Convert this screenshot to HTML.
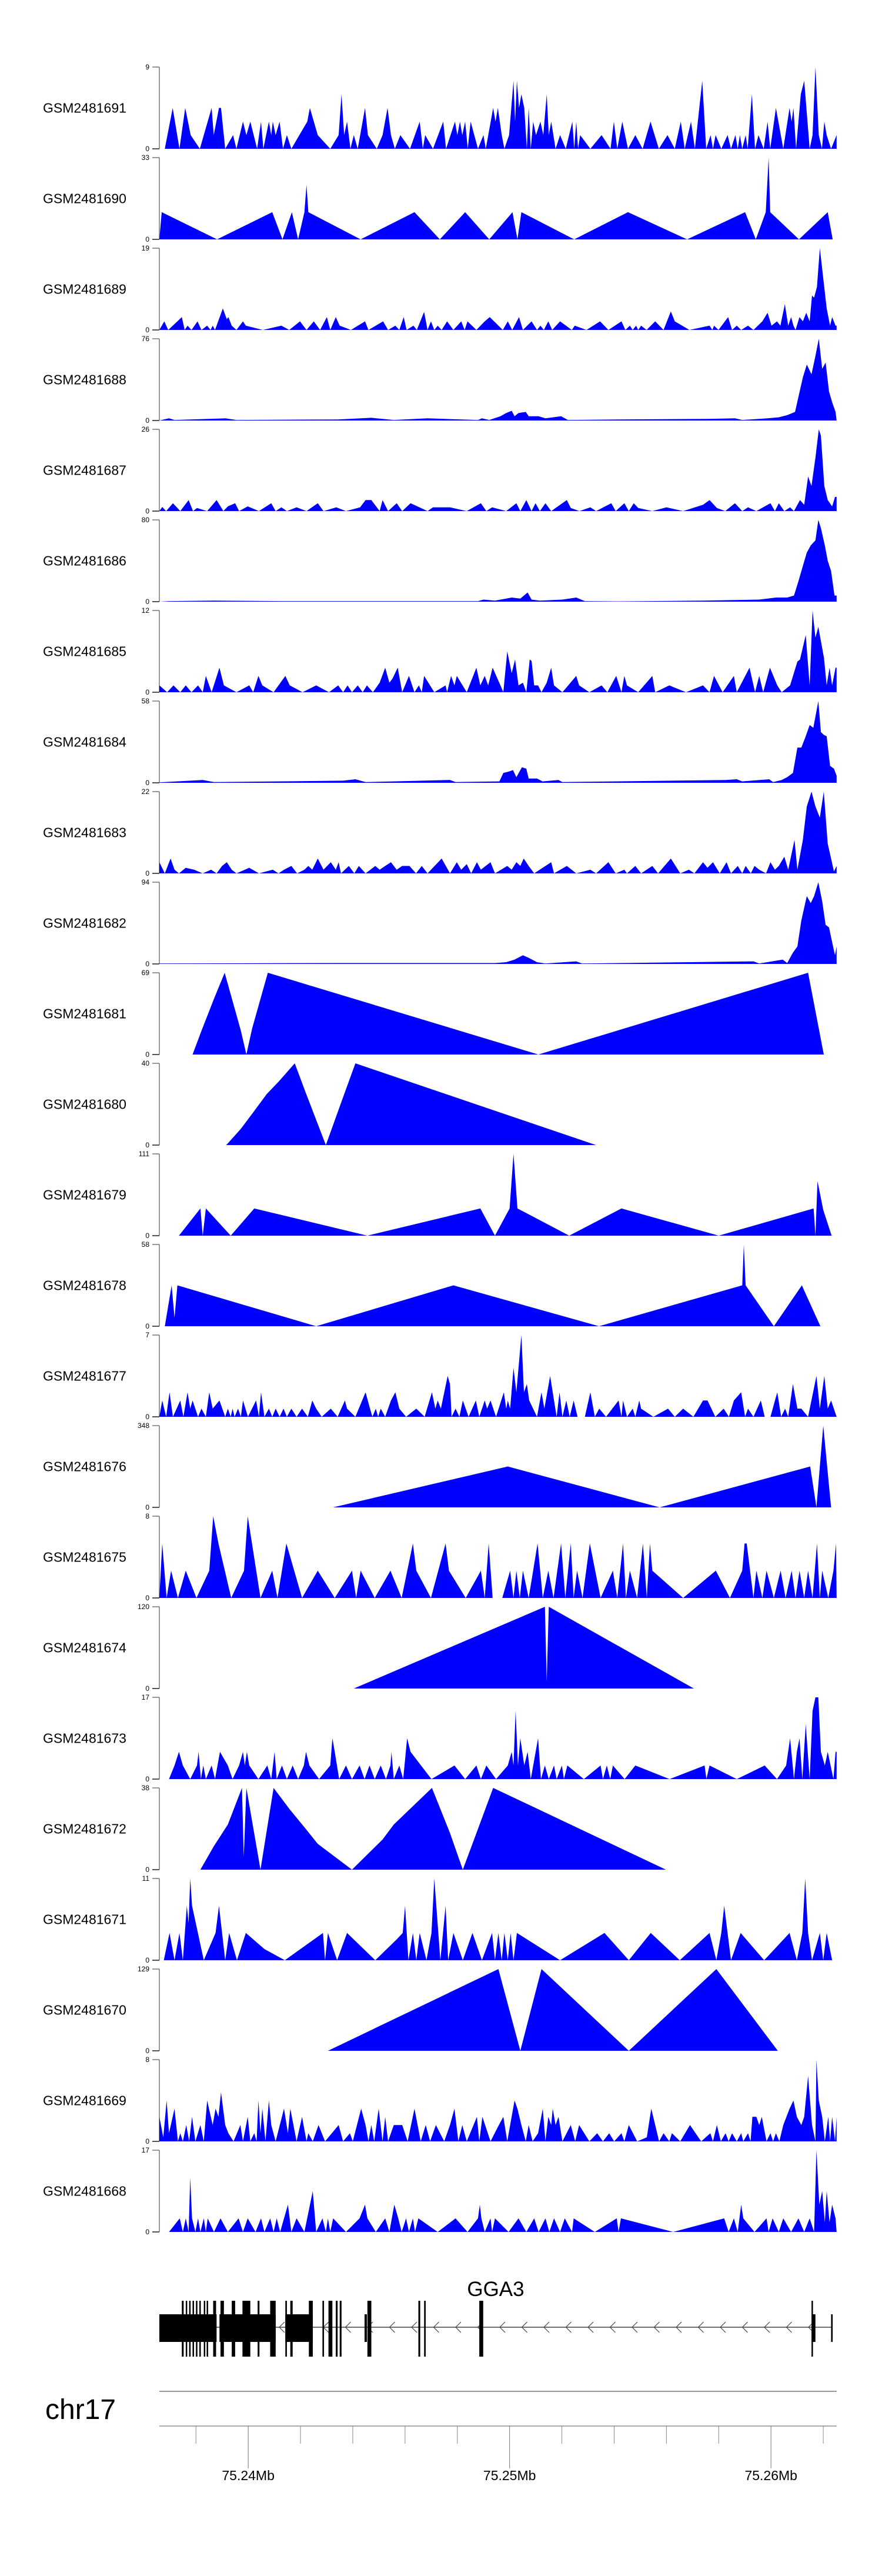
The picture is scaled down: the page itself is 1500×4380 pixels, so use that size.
<!DOCTYPE html>
<html><head><meta charset="utf-8"><title>Coverage tracks GGA3</title>
<style>
html,body{margin:0;padding:0;background:#fff;}
#wrap{position:relative;width:1500px;height:4380px;overflow:hidden;}
svg text{font-family:"Liberation Sans",Arial,sans-serif;}
</style></head>
<body>
<div id="wrap">
<svg id="fig" width="1500" height="4380" viewBox="0 0 1500 4380" xmlns="http://www.w3.org/2000/svg"></svg>
</div>
<script>
// ---------------- data ----------------
const sampleNames = ["GSM2481691","GSM2481690","GSM2481689","GSM2481688","GSM2481687","GSM2481686","GSM2481685","GSM2481684","GSM2481683","GSM2481682","GSM2481681","GSM2481680","GSM2481679","GSM2481678","GSM2481677","GSM2481676","GSM2481675","GSM2481674","GSM2481673","GSM2481672","GSM2481671","GSM2481670","GSM2481669","GSM2481668"];
const yMaxLabels = [9,33,19,76,26,80,12,58,22,94,69,40,111,58,7,348,8,120,17,38,11,129,8,17];
// positions in kb (offset from 75,230 kb), values alternate: kb, value, kb, value...
const t691 = [6.81,0,7.11,4.5,7.37,0,7.59,4.5,7.80,1.5,8.15,0,8.60,4.5,8.68,1.5,8.88,4.5,8.96,4.5,9.12,0,9.42,1.5,9.55,0,9.80,3,9.93,1.5,10.08,3,10.34,0,10.49,3,10.58,0,10.79,3,10.88,1.5,10.94,3,11.05,1.5,11.20,3,11.33,0,11.48,1.5,11.65,0,12.26,3,12.36,4.5,12.66,1.5,13.14,0,13.46,1.5,13.57,6,13.67,1.5,13.78,3,13.91,0,14.04,1.5,14.19,0,14.47,4.5,14.58,1.5,14.92,0,15.14,1.5,15.33,4.5,15.46,1.5,15.61,0,15.82,1.5,16.19,0,16.56,3,16.68,0,16.77,1.5,17.07,0,17.46,3,17.57,0,17.91,3,18.00,1.5,18.10,3,18.19,1.5,18.30,3,18.40,0,18.51,3,18.79,0,19.00,1.5,19.09,0,19.37,4.5,19.46,3,19.55,4.5,19.70,1.5,19.80,0,19.98,1.5,20.15,7.5,20.21,3,20.28,7.5,20.36,4.5,20.45,6,20.56,4.5,20.66,0,20.73,4.5,20.81,0,20.90,3,21.01,1.5,21.18,3,21.29,1.5,21.42,6,21.50,1.5,21.59,3,21.76,0,21.93,1.5,22.15,0,22.40,3,22.47,0,22.55,3,22.62,0,22.70,1.5,23.09,0,23.52,1.5,23.86,0,23.99,3,24.12,0,24.31,3,24.53,0,24.81,1.5,25.09,0,25.39,3,25.71,0,26.04,1.5,26.32,0,26.55,3,26.70,0,26.94,3,27.09,0,27.37,7.5,27.52,0,27.69,1.5,27.78,0,27.88,1.5,28.10,0,28.34,1.5,28.47,0,28.64,1.5,28.73,0,28.81,1.5,28.90,0,29.03,1.5,29.11,0,29.27,6,29.39,0,29.52,1.5,29.72,0,29.87,3,29.97,0,30.19,4.5,30.47,0,30.71,4.5,30.79,3,30.86,4.5,30.96,0,31.14,6,31.27,7.5,31.48,0,31.59,1.5,31.70,9,31.83,1.5,31.95,0,32.04,3,32.13,1.5,32.30,0,32.51,1.5];
const t690 = [6.60,0,6.69,11,8.81,0,10.92,11,11.31,0,11.67,11,11.91,0,12.15,11,12.23,22,12.30,11,14.30,0,16.36,11,17.33,0,18.30,11,19.22,0,20.11,11,20.30,0,20.45,11,22.47,0,24.53,11,26.79,0,29.01,11,29.42,0,29.80,11,29.91,33,29.97,11,31.07,0,32.17,11,32.36,0];
const t689 = [6.60,0,6.79,2,6.94,0,7.29,2,7.46,3,7.57,0,7.68,1,7.83,0,8.06,2,8.21,0,8.43,1,8.56,0,8.64,1,8.73,0,9.03,5,9.18,2.5,9.24,3,9.37,1,9.55,0,9.80,2,9.91,1,10.56,0,11.27,1,11.57,0,11.98,2,12.23,0,12.51,2,12.75,0,13.01,3,13.14,0,13.35,3,13.50,1,13.93,0,14.47,2,14.60,0,15.16,2,15.35,0,15.63,1,15.78,0,15.95,3,16.06,0,16.32,1,16.45,0,16.73,4.2,16.86,0,16.99,2,17.12,0,17.25,1,17.40,0,17.61,2,17.85,0,18.15,2,18.28,0,18.39,2,18.73,0,19.05,2,19.24,3,19.74,0,19.93,2,20.10,0,20.36,3,20.51,0,20.84,2,21.05,0,21.18,1,21.31,0,21.48,2,21.63,0,21.93,2,22.38,0,22.49,1,22.94,0,23.46,2,23.78,0,24.28,2,24.43,0,24.60,1,24.71,0,24.84,1,24.92,0,25.03,1,25.24,0,25.57,2,25.89,0,26.17,4.3,26.32,2,26.88,0,27.65,1,27.76,0,27.82,1,27.99,0,28.36,3,28.51,0,28.69,1,28.86,0,29.12,1,29.33,0,29.67,2,29.87,4,30.02,1,30.23,2,30.36,1,30.53,6,30.66,1,30.77,3,30.86,1,30.94,0,31.09,3,31.22,2,31.35,4,31.48,2,31.57,8,31.65,7.5,31.76,10,31.87,19,32.00,12,32.13,5,32.26,1,32.34,3,32.47,1,32.51,1];
const t688 = [6.60,0,6.97,2,7.18,0.5,9.12,2,9.55,0.5,13.42,1,14.71,2.5,15.57,0.5,16.86,2,18.79,0.5,18.94,2,19.22,0.5,19.65,4,19.87,7,20.08,9,20.19,4,20.34,7,20.62,8,20.73,4,21.11,4,21.37,2,21.97,4,22.23,0.5,24.17,1,27.61,1.5,28.62,2,28.90,0.5,29.87,2,30.30,3,30.62,5,30.92,8,31.05,22,31.22,40,31.37,52,31.55,43,31.70,60,31.83,76,31.96,48,32.09,54,32.22,27,32.34,17,32.47,8,32.51,0];
const t687 = [6.60,0,6.71,1.3,6.86,0,7.12,2.5,7.40,0,7.72,3.5,7.89,0,8.04,1,8.43,0,8.79,3.5,9.05,0,9.22,1.5,9.50,2.5,9.65,0,9.98,1.5,10.41,0,10.88,2.5,11.05,0,11.27,1.2,11.48,0,11.85,1.2,12.23,0,12.66,2.5,12.88,0,13.37,1.2,13.74,0,14.28,1.2,14.49,3.5,14.71,3.5,15.03,0,15.14,3.5,15.35,0,15.68,2.5,15.89,0,16.21,2.5,16.86,0,17.07,1.2,17.72,1.2,18.36,0,18.90,2.5,19.11,0,19.33,1.2,19.87,0,20.26,2.5,20.41,0,20.64,3.5,20.84,0,20.99,2.5,21.16,0,21.37,2.5,21.59,0,22.19,3.5,22.34,1,22.67,0,23.09,1.2,23.31,0,23.89,2.5,24.06,0,24.39,2.5,24.56,0,24.75,2.5,24.92,1,25.46,0,26.00,1.2,26.64,0,27.40,2,27.65,3.5,27.93,1,28.25,0,28.62,2.5,28.90,0,29.12,1.2,29.44,0,29.98,2.5,30.15,0,30.30,2.5,30.51,0,30.73,1.2,30.88,0,31.11,3.5,31.27,2,31.42,11,31.55,8,31.70,17,31.83,26,31.91,24,32.04,8,32.17,3.5,32.34,1.5,32.45,4.5,32.51,4.5];
const t686 = [6.60,0,6.97,0.5,8.69,1,11.27,0.5,15.57,0.5,18.79,0.5,19.00,2,19.44,1,19.87,3,20.08,4,20.41,3,20.69,9,20.84,2,21.16,1,22.02,2,22.55,4,22.88,0.5,24.17,0.3,27.40,1,28.47,1.5,29.55,2,30.19,4,30.62,4,30.88,6,31.05,20,31.22,35,31.37,48,31.52,55,31.70,60,31.81,80,31.91,72,32.06,55,32.17,40,32.30,30,32.43,6,32.51,6];
const t685 = [6.60,1,6.90,0,7.14,1,7.40,0,7.61,1,7.83,0,8.08,1,8.26,0,8.38,2.4,8.60,0,8.90,3.6,9.07,1,9.55,0,10.04,1,10.19,0,10.39,2.4,10.54,1,10.97,0,11.42,2.4,11.59,1,12.08,0,12.60,1,13.09,0,13.44,1,13.63,0,13.80,1,13.97,0,14.19,1,14.38,0,14.54,1,14.77,0,15.03,1.4,15.24,3.6,15.40,1.4,15.52,2,15.72,3.6,15.89,0,16.15,2.4,16.36,0,16.53,1,16.64,0,16.73,2.4,17.12,0,17.55,1,17.61,0,17.76,2.4,17.89,1,17.98,2.4,18.36,0,18.73,3.6,18.88,1,19.05,2.4,19.18,1,19.35,3.6,19.65,1,19.76,0,19.91,6,20.08,2.8,20.21,4.8,20.34,1,20.51,1.4,20.64,0,20.77,4.8,20.84,4.6,20.94,1,21.09,1,21.22,0,21.42,1.4,21.59,3.6,21.70,1,22.02,0,22.55,2.4,22.66,1,23.05,0,23.52,1,23.74,0,24.08,2.4,24.28,0,24.39,2.4,24.49,1,24.92,0,25.46,2.4,25.57,0,26.11,1,26.75,0,27.40,1,27.65,0,27.82,2.4,28.15,0,28.58,2.4,28.69,0,29.18,3.6,29.39,0,29.55,2.4,29.70,0,29.96,3.6,30.24,1,30.41,0,30.73,1,31.01,4.5,31.11,4.8,31.33,8.4,31.48,1,31.59,12,31.70,8,31.81,9.6,32.03,5,32.13,1,32.24,3.6,32.34,1,32.47,3.6,32.51,3.6];
const t684 = [6.60,0.3,8.26,2,8.69,0.5,13.63,1.5,14.10,2.5,14.49,0.5,17.72,2,17.93,0.5,19.61,1,19.76,7,19.98,8,20.13,9,20.26,4,20.47,11,20.64,10,20.73,3,21.05,3,21.26,1,21.87,2,22.02,0.5,28.26,2,28.69,2.5,28.90,1,29.93,2.5,30.08,0.5,30.41,2,30.62,4,30.84,7,31.01,25,31.16,25,31.31,32,31.48,41,31.62,39,31.81,58,31.91,36,32.02,34,32.13,33,32.26,12,32.41,10,32.51,5];
const t683 = [6.60,3,6.81,0,7.03,4,7.18,1,7.35,0,7.61,1.5,7.93,1,8.26,0,8.58,1,8.79,0,9.00,2,9.18,3,9.37,1,9.55,0,10.04,1.5,10.41,0,10.94,1,11.16,0,11.37,1,11.65,2,11.87,0,12.15,1,12.30,2,12.45,1,12.66,4,12.88,1,13.16,3,13.35,1,13.46,3,13.55,0,13.85,2,14.06,0,14.23,2,14.49,0,14.86,2,15.03,1,15.24,2,15.46,3,15.68,1,15.89,2,16.17,2,16.42,0,16.64,2,16.86,0,17.40,4,17.72,0,17.98,3,18.15,1,18.36,2.5,18.53,0,18.75,3,18.90,1,19.27,3,19.44,0,19.91,2,20.08,1,20.26,3,20.41,2,20.54,4,20.73,2,20.94,0,21.59,3,21.70,0,22.19,2,22.55,0,23.09,1,23.31,0,23.78,3,24.06,0,24.39,1,24.49,0,24.81,2,25.03,0,25.46,2,25.68,0,26.17,4,26.53,0,26.86,1,27.07,0,27.40,3,27.57,1.5,27.78,3,28.04,0,28.30,3,28.47,0,28.73,2,28.90,0,29.03,2,29.23,0,29.37,2,29.55,1,29.81,0,29.98,3,30.15,1,30.30,2,30.51,4.5,30.66,1,30.90,9,31.01,1,31.22,9,31.37,18,31.55,22,31.70,18,31.87,15,32.02,22,32.17,8,32.30,4,32.41,0.5,32.51,2];
const t682 = [6.60,0.5,13.42,1,19.44,1,19.87,2,20.19,5,20.51,10,20.73,7,21.05,2,21.37,0.5,22.55,3,22.77,0.5,29.33,3,29.55,0.5,30.45,5,30.62,1,30.84,13,31.01,20,31.16,50,31.37,78,31.52,70,31.65,78,31.81,94,31.96,72,32.09,45,32.22,42,32.34,25,32.45,10,32.51,20];
const t681 = [7.87,0,8.21,20,8.69,47,9.10,69,9.72,20,9.93,0,10.15,22,10.75,69,21.10,0,31.42,69,32.02,0];
const t680 = [9.16,0,9.72,8,10.19,16,10.71,25,11.16,31,11.78,40,12.19,26,12.97,0,13.59,22,14.10,40,23.31,0];
const t679 = [7.35,0,8.17,37,8.26,0,8.38,37,9.33,0,10.23,37,14.56,0,18.88,37,19.44,0,20.00,37,20.15,111,20.30,37,22.28,0,24.28,37,28.00,0,31.63,37,31.70,0,31.78,74,32.00,35,32.32,0];
const t678 = [6.81,0,7.07,29,7.18,6,7.29,29,12.60,0,17.85,29,23.42,0,28.90,29,28.96,58,29.03,29,30.11,0,31.18,29,31.89,0];
const t677 = [6.60,0,6.71,1.4,6.86,0,6.99,2.1,7.12,0,7.40,1.4,7.52,0,7.68,2.1,7.78,0.7,7.87,1.4,8.08,0,8.21,0.7,8.38,0,8.51,2.1,8.64,0.7,8.90,1.4,9.12,0,9.22,0.7,9.33,0,9.40,0.7,9.48,0,9.61,0.7,9.72,0,9.80,1.4,9.99,0,10.30,1.4,10.41,0,10.49,2.1,10.62,0,10.79,0.7,10.92,0,11.05,0.7,11.20,0,11.35,0.7,11.48,0,11.65,0.7,11.85,0,12.06,0.7,12.28,0,12.45,1.4,12.60,0.7,12.81,0,13.16,0.7,13.42,0,13.70,1.4,13.78,0.7,14.10,0,14.49,2.1,14.66,0.7,14.75,0,14.88,0.7,14.97,0,15.07,0.7,15.24,0,15.46,1.4,15.63,2.1,15.78,0.7,16.04,0,16.43,0.7,16.75,0,17.03,2.1,17.16,0.7,17.25,1.4,17.37,0.7,17.63,3.5,17.72,2.8,17.78,0,17.93,0.7,18.08,0,18.21,1.4,18.43,0,18.71,1.4,18.84,0,19.05,1.4,19.14,0.7,19.27,1.4,19.48,0,19.78,2.1,19.87,0.7,19.93,1.4,20.02,0.7,20.15,4.2,20.26,2.1,20.45,7,20.55,2.1,20.66,2.8,20.75,1.4,21.05,0,21.22,2.1,21.33,0.7,21.55,3.5,21.70,1.4,21.80,0,21.91,2.1,22.02,0,22.17,1.4,22.30,0,22.45,1.4,22.60,0,22.88,0,23.09,2.1,23.26,0,23.43,0.7,23.69,0,24.17,1.4,24.28,0,24.34,1.4,24.49,0,24.71,0.7,24.81,0,24.96,1.4,25.03,0.7,25.50,0,26.06,0.7,26.32,0,26.64,0.7,27.03,0,27.40,1.4,27.57,1.4,27.87,0,28.19,0.7,28.39,0,28.58,1.4,28.86,2.1,29.01,0,29.12,0.7,29.33,0,29.61,1.4,29.76,0,29.98,0,30.24,2.1,30.39,0,30.54,0.7,30.66,0,30.84,2.8,31.01,0.7,31.16,0.7,31.42,0,31.74,3.5,31.87,0.7,32.04,3.5,32.17,0.7,32.30,1.4,32.51,0];
const t676 = [13.24,0,19.93,174,25.74,0,31.50,174,31.74,0,32.00,348,32.30,0];
const t675 = [6.60,0,6.71,5.33,6.88,0,7.05,2.67,7.31,0,7.61,2.67,8.02,0,8.51,2.67,8.66,8,8.86,5.33,9.35,0,9.84,2.67,9.98,8,10.47,0,10.92,2.67,11.12,0,11.46,5.33,12.06,0,12.66,2.67,13.31,0,13.97,2.67,14.13,0,14.30,2.67,14.84,0,15.44,2.67,15.87,0,16.30,5.33,16.43,2.67,16.99,0,17.55,5.33,17.68,2.67,18.32,0,18.90,2.67,19.05,0,19.20,5.33,19.35,0,19.72,0,20.02,2.67,20.15,0,20.26,2.67,20.39,0,20.51,2.67,20.73,0,20.90,2.67,21.07,5.33,21.27,0,21.48,2.67,21.68,0,21.97,5.33,22.13,0,22.34,5.33,22.45,0,22.58,2.67,22.79,0,23.07,5.33,23.48,0,23.95,2.67,24.12,0,24.34,5.33,24.45,0,24.60,2.67,24.88,0,25.10,5.33,25.25,0,25.37,5.33,25.46,2.67,26.64,0,27.89,2.67,28.43,0,28.90,2.67,28.99,5.33,29.07,5.33,29.33,0,29.44,2.67,29.67,0,29.83,2.67,30.11,0,30.37,2.67,30.56,0,30.79,2.67,30.94,0,31.09,2.67,31.27,0,31.42,2.67,31.59,0,31.76,5.33,31.87,0,31.96,2.67,32.19,0,32.39,2.67,32.49,5.33,32.51,0];
const t674 = [14.04,0,21.35,120,21.42,10,21.50,120,27.05,0];
const t673 = [6.97,0,7.18,2.83,7.35,5.67,7.50,2.83,7.78,0,8.04,2.83,8.10,5.67,8.19,0,8.28,2.83,8.38,0,8.60,2.83,8.73,0,8.92,5.67,9.22,2.83,9.40,0,9.65,2.83,9.80,5.67,9.87,2.83,9.95,5.67,10.04,2.83,10.39,0,10.73,2.83,10.88,0,11.01,5.67,11.09,0,11.29,2.83,11.48,0,11.70,2.83,11.91,0,12.13,2.83,12.21,5.67,12.34,2.83,12.71,0,13.14,2.83,13.22,8.5,13.31,5.67,13.48,0,13.74,2.83,13.97,0,14.26,2.83,14.45,0,14.64,2.83,14.84,0,15.07,2.83,15.27,0,15.44,2.83,15.48,5.67,15.57,0,15.78,2.83,15.93,0,16.08,8.5,16.21,5.67,17.01,0,17.89,2.83,18.30,0,18.73,2.83,18.90,0,19.11,2.83,19.48,0,19.93,2.83,20.08,5.67,20.15,2.83,20.23,14.2,20.32,2.83,20.41,8.5,20.56,2.83,20.69,5.67,20.81,0,21.09,8.5,21.20,0,21.35,2.83,21.50,0,21.70,2.83,21.80,0,22.00,2.83,22.08,0,22.21,2.83,22.84,0,23.48,2.83,23.57,0,23.72,2.83,23.85,0,23.95,2.83,24.40,0,24.81,2.83,26.12,0,27.46,2.83,27.53,0,27.65,2.83,28.69,0,29.76,2.83,30.23,0,30.58,2.83,30.73,8.5,30.88,0,30.99,5.67,31.09,8.5,31.20,0,31.33,11.4,31.48,0,31.59,14.2,31.70,17,31.81,17,31.91,5.67,32.06,2.83,32.17,5.67,32.39,0,32.47,5.67,32.51,5.67];
const t672 = [8.17,0,8.69,11,9.22,21,9.76,38,9.83,6,9.93,38,10.47,0,10.97,38,11.59,28,12.13,20,12.66,12,13.97,0,15.14,14,15.57,21,17.03,38,17.72,17,18.21,0,18.64,14,19.37,38,25.98,0];
const t671 = [6.77,0,6.99,3.67,7.18,0,7.37,3.67,7.50,0,7.65,7.33,7.72,5,7.78,11,7.85,7.33,8.30,0,8.75,3.67,8.88,7.33,9.12,0,9.27,3.67,9.57,0,9.91,3.67,10.62,1.5,11.40,0,12.86,3.67,12.94,0,13.05,3.67,13.40,0,13.78,3.67,14.86,0,15.68,2.8,15.91,3.67,16.00,7.33,16.13,0,16.30,3.67,16.43,0,16.56,3.67,16.82,0,17.01,3.67,17.12,11,17.35,0,17.55,7.33,17.65,0,17.85,3.67,18.21,0,18.58,3.67,18.94,0,19.33,3.67,19.44,0,19.57,3.67,19.70,0,19.80,3.67,19.93,0,20.04,3.67,20.15,0,20.28,3.67,21.93,0,23.63,3.67,24.56,0,25.40,3.67,26.51,0,27.65,3.67,27.91,0,28.10,3.67,28.21,7.33,28.47,0,28.84,3.67,29.74,0,30.71,3.67,30.99,0,31.20,3.67,31.31,11,31.42,3.67,31.57,0,31.87,3.67,32.00,0,32.13,3.67,32.34,0];
const t670 = [13.05,0,19.57,129,20.41,0,21.22,129,24.56,0,27.91,129,30.26,0];
const t669 = [6.60,2.4,6.75,0.4,6.88,4,6.97,0.8,7.18,3.2,7.31,0,7.40,0.8,7.50,0,7.63,1.6,7.74,0,7.85,2.4,7.98,0,8.17,1.6,8.30,0,8.43,4,8.64,1.6,8.75,3.2,8.86,2.4,8.96,4.8,9.12,1.6,9.24,0.8,9.44,0,9.70,1.6,9.80,0,9.98,2.4,10.08,0,10.23,0.8,10.32,0,10.39,4,10.47,0.8,10.54,3.2,10.66,0,10.79,4,10.88,1.6,11.05,0,11.37,3.2,11.52,0.8,11.61,3.2,11.85,0,12.06,2.4,12.23,0,12.30,0.8,12.47,0,12.69,1.6,12.94,0,13.46,1.6,13.63,0,13.89,0.8,14.00,0,14.32,3.2,14.49,1.6,14.60,0,14.71,1.6,14.82,0,14.99,3.2,15.14,0,15.24,2.4,15.35,0,15.57,1.6,15.89,1.6,16.10,0,16.36,3.2,16.60,0,16.79,1.6,16.96,0,17.18,1.6,17.50,0,17.72,1.6,17.89,3.2,18.04,0,18.19,1.6,18.36,0,18.75,2.4,18.84,0,18.96,2.4,19.27,0,19.59,1.6,19.76,2.4,19.91,0,20.02,1.6,20.19,4,20.30,3.2,20.45,1.6,20.62,0,20.73,1.6,20.88,0,21.09,0.8,21.27,3.2,21.37,0,21.48,2.4,21.59,1.6,21.65,3.2,21.76,1.6,21.87,2.4,22.02,0,22.34,1.6,22.51,0,22.66,1.6,23.05,0,23.35,0.8,23.57,0,23.81,0.8,24.00,0,24.28,0.8,24.39,0,24.56,1.6,24.88,0,25.25,0.4,25.42,3.2,25.57,1.6,25.72,0,25.89,0.8,26.11,0,26.21,0.8,26.53,0,26.90,1.6,27.33,0,27.68,0.8,27.78,0,27.93,1.6,28.08,0,28.26,0.8,28.38,0,28.51,0.8,28.69,0,28.86,0.8,28.94,0,29.12,0.8,29.22,0,29.29,2.4,29.44,2.4,29.55,1.6,29.65,2.4,29.83,0,29.98,0.8,30.08,0,30.19,0.8,30.32,0,30.47,1.6,30.71,3.2,30.86,4,30.99,2.4,31.16,1.6,31.27,2.4,31.42,6.4,31.57,1.6,31.70,0,31.74,8,31.83,4,31.96,2.4,32.06,0,32.19,2.4,32.26,0,32.34,2.4,32.45,0,32.51,2.4];
const t668 = [6.97,0,7.38,2.83,7.50,0,7.61,2.83,7.72,0,7.78,11.3,7.85,2.83,7.98,0,8.08,2.83,8.17,0,8.30,2.83,8.38,0,8.45,2.83,8.69,0,8.94,2.83,9.22,0,9.63,2.83,9.80,0,9.98,2.83,10.28,0,10.49,2.83,10.62,0,10.84,2.83,10.97,0,11.09,2.83,11.22,0,11.52,5.67,11.65,0,11.85,2.83,12.15,0,12.47,8.5,12.60,0,12.84,2.83,12.97,0,13.05,2.83,13.14,0,13.25,2.83,13.74,0,14.26,2.83,14.47,5.67,14.56,2.83,14.88,0,15.24,2.83,15.40,0,15.59,5.67,15.74,2.83,15.87,0,16.04,2.83,16.15,0,16.30,2.83,16.38,0,16.51,2.83,17.25,0,17.93,2.83,18.39,0,18.79,2.83,18.86,5.67,18.92,2.83,19.05,0,19.27,2.83,19.33,0,19.44,2.83,19.96,0,20.34,2.83,20.64,0,20.94,2.83,21.11,0,21.37,2.83,21.52,0,21.70,2.83,21.93,0,22.11,2.83,22.39,0,22.45,2.83,23.26,0,24.10,2.83,24.17,0,24.26,2.83,26.26,0,28.21,2.83,28.38,0,28.58,2.83,28.73,0,28.86,5.67,28.94,2.83,29.37,0,29.83,2.83,29.91,0,30.06,2.83,30.30,0,30.47,2.83,30.77,0,31.05,2.83,31.27,0,31.48,2.83,31.65,0,31.74,17,31.85,5.67,31.96,8.5,32.06,2,32.13,8.5,32.24,2,32.34,5.67,32.47,2.83,32.51,0];
const trackData = [t691,t690,t689,t688,t687,t686,t685,t684,t683,t682,t681,t680,t679,t678,t677,t676,t675,t674,t673,t672,t671,t670,t669,t668];

// gene model GGA3 (kb)
const utrBlocks = [[6.60,8.79],[8.90,11.05],[11.42,12.47],[14.45,14.54],[31.59,31.70],[32.30,32.36]];
const cdsBlocks = [[7.46,7.53],[7.61,7.65],[7.74,7.78],[7.87,7.91],[8.00,8.04],[8.13,8.17],[8.30,8.34],[8.41,8.45],[8.66,8.77],[8.94,9.07],[9.37,9.50],[9.78,10.08],[10.36,10.43],[10.84,11.05],[11.42,11.48],[11.61,11.70],[12.32,12.47],[12.84,12.90],[13.07,13.22],[13.35,13.42],[13.50,13.57],[14.56,14.71],[16.51,16.58],[16.73,16.79],[18.84,18.99],[31.55,31.59]];
const geneSpan = [6.60,32.36];
const axisMajorKb = [10,20,30];
const axisMajorLabels = ["75.24Mb","75.25Mb","75.26Mb"];
const axisMinorKb = [8,12,14,16,18,22,24,26,28,32];

// ---------------- layout / scales ----------------
const X0 = 271, X1 = 1423, KB0 = 6.6, KB1 = 32.515;
function xScale(kb){ return X0 + (kb - KB0) * (X1 - X0) / (KB1 - KB0); }
const TRACK_TOP = 114, TRACK_PITCH = 154, TRACK_H = 139;
function yScale(i, v){ const base = TRACK_TOP + i*TRACK_PITCH + TRACK_H; return base - v / yMaxLabels[i] * TRACK_H; }

const NS = "http://www.w3.org/2000/svg";
const svg = document.getElementById('fig');
function mk(tag, attrs, parent){ const e = document.createElementNS(NS, tag); for (const k in attrs) e.setAttribute(k, attrs[k]); (parent||svg).appendChild(e); return e; }

// ---------------- tracks ----------------
sampleNames.forEach((name, i) => {
  const g = mk('g', {});
  
  
  const top = TRACK_TOP + i*TRACK_PITCH, base = top + TRACK_H;
  const lab = mk('text', {x: 73, y: top + TRACK_H/2 + 8, 'font-size': 23, fill: '#000'}, g);
  lab.textContent = name;
  
  
  const ax = mk('line', {x1: X0, x2: X0, y1: top, y2: base, stroke: '#777', 'stroke-width': 1.5}, g);
  
  
  [[yMaxLabels[i], top], [0, base]].forEach(([val, y]) => {
    const tk = mk('line', {x1: 259, x2: X0, y1: y, y2: y, stroke: '#555', 'stroke-width': val === 0 ? 2 : 1.2}, g);
    
    
    const tl = mk('text', {x: 254, y: y + 4, 'font-size': 12, 'text-anchor': 'end', fill: '#000'}, g);
    tl.textContent = String(val);
    
    
  });
  const d = trackData[i];
  let pts = [];
  pts.push(xScale(d[0]).toFixed(1) + ',' + base);
  for (let k = 0; k < d.length; k += 2) pts.push(xScale(d[k]).toFixed(1) + ',' + yScale(i, d[k+1]).toFixed(1));
  pts.push(xScale(d[d.length-2]).toFixed(1) + ',' + base);
  const poly = mk('polygon', {points: pts.join(' '), fill: '#0000FF', stroke: 'none'}, g);
  
  
});

// ---------------- gene track ----------------
const gg = mk('g', {});


const GY = 3957;
const intron = mk('line', {x1: xScale(geneSpan[0]), x2: xScale(geneSpan[1]), y1: GY, y2: GY, stroke: '#444', 'stroke-width': 1.5}, gg);


for (let x = 475; x < 1410; x += 37.5) {
  const ch = mk('polyline', {points: (x+9)+','+(GY-9)+' '+x+','+GY+' '+(x+9)+','+(GY+9), fill: 'none', stroke: '#444', 'stroke-width': 1.2}, gg);
  
  
}
utrBlocks.forEach(b => {
  const x1 = xScale(b[0]), x2 = xScale(b[1]);
  const r = mk('rect', {x: x1, y: 3935, width: Math.max(2.5, x2-x1), height: 47, fill: '#000'}, gg);
  
  
});
cdsBlocks.forEach(b => {
  const x1 = xScale(b[0]), x2 = xScale(b[1]);
  const r = mk('rect', {x: x1, y: 3912, width: Math.max(2.5, x2-x1), height: 95, fill: '#000'}, gg);
  
  
});
const gl = mk('text', {x: 843, y: 3904, 'font-size': 35, 'text-anchor': 'middle', fill: '#000'}, gg);
gl.textContent = 'GGA3';



// ---------------- genome axis ----------------
const ag = mk('g', {});


const chr = mk('text', {x: 77, y: 4113, 'font-size': 48, fill: '#000'}, ag);
chr.textContent = 'chr17';


const l1 = mk('line', {x1: X0, x2: X1, y1: 4066, y2: 4066, stroke: '#999', 'stroke-width': 2}, ag);


const l2 = mk('line', {x1: X0, x2: X1, y1: 4125, y2: 4125, stroke: '#aaa', 'stroke-width': 2}, ag);


axisMinorKb.forEach(kb => {
  const t = mk('line', {x1: xScale(kb), x2: xScale(kb), y1: 4125, y2: 4155, stroke: '#888', 'stroke-width': 1}, ag);
  
  
});
axisMajorKb.forEach((kb, j) => {
  const t = mk('line', {x1: xScale(kb), x2: xScale(kb), y1: 4125, y2: 4197, stroke: '#777', 'stroke-width': 1}, ag);
  
  
  const tl = mk('text', {x: xScale(kb), y: 4217, 'font-size': 23, 'text-anchor': 'middle', fill: '#000'}, ag);
  tl.textContent = axisMajorLabels[j];
  
  
});
</script>
</body></html>
